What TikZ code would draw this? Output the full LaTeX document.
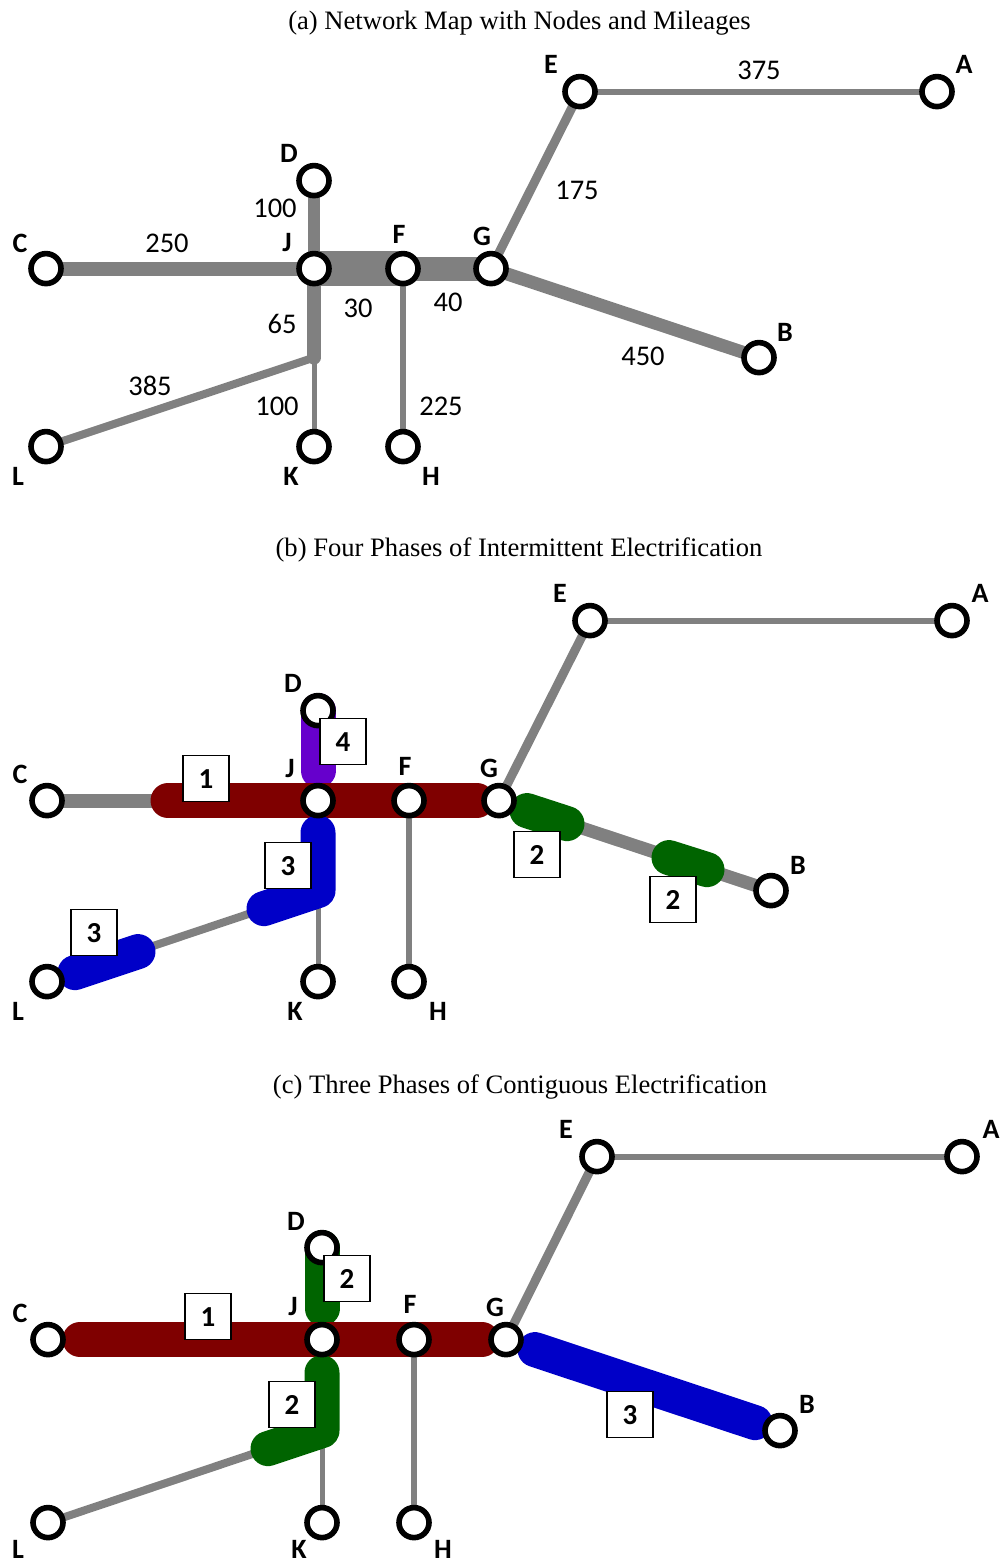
\documentclass[tikz,border=0pt]{standalone}
\usepackage{fontspec}
\setmainfont{Liberation Serif}
\newfontfamily\labelfont{Carlito}
\usetikzlibrary{backgrounds}
\definecolor{trackgray}{HTML}{808080}
\definecolor{phasered}{HTML}{7F0000}
\definecolor{phasegreen}{HTML}{006400}
\definecolor{phaseblue}{HTML}{0000C8}
\definecolor{phasepurple}{HTML}{6600CC}
\tikzstyle{stationblock} = [draw, fill=white, circle, line width=5.6pt, minimum size=30pt, inner sep=0pt]
\tikzstyle{phaseblock} = [draw, fill=white, line width=1.2pt, minimum size=46pt, inner sep=0pt, font=\labelfont\bfseries\fontsize{29}{30}\selectfont]
\tikzstyle{citylabel} = [inner sep=0pt, font=\labelfont\bfseries\fontsize{28}{30}\selectfont]
\tikzstyle{milelabel} = [inner sep=0pt, font=\labelfont\fontsize{28.5}{30}\selectfont]
\tikzstyle{paneltitle} = [inner sep=0pt, font=\fontsize{26.6}{30}\selectfont]
\tikzstyle{track} = [draw=trackgray]
\tikzstyle{phaseline} = [line width=35pt, line cap=round, line join=round]

\begin{document}
\begin{tikzpicture}[x=1pt, y=-1pt]
      \useasboundingbox (0, -0.6) rectangle (1002, 1563.4);

      % (a) network map
      \node[paneltitle] (titleA) at (519.5, 22.5) {(a) Network Map with Nodes and Mileages};
      \node[stationblock] (aA) at (937, 91) {};
      \node[stationblock] (aE) at (580, 91) {};
      \node[stationblock] (aD) at (314, 180) {};
      \node[stationblock] (aC) at (46, 268) {};
      \node[stationblock] (aJ) at (314, 268) {};
      \node[stationblock] (aF) at (403, 268) {};
      \node[stationblock] (aG) at (491, 268) {};
      \node[stationblock] (aB) at (759, 357) {};
      \node[stationblock] (aL) at (46, 446) {};
      \node[stationblock] (aK) at (314, 446) {};
      \node[stationblock] (aH) at (403, 446) {};
      \coordinate (aM) at (314, 357);

      \begin{scope}[on background layer]
        \draw[track, line width=6pt] (aE.center) -- (aA.center);
        \draw[track, line width=9pt] (aG.center) -- (aE.center);
        \draw[track, line width=13pt] (aG.center) -- (aB.center);
        \draw[track, line width=12pt] (aD.center) -- (aJ.center);
        \draw[track, line width=14pt] (aC.center) -- (aJ.center);
        \draw[track, line width=35pt] (aJ.center) -- (aF.center);
        \draw[track, line width=24pt] (aF.center) -- (aG.center);
        \draw[track, line width=5pt] (aM) -- (aK.center);
        \draw[track, line width=6pt] (aF.center) -- (aH.center);
        \draw[track, line width=8pt] (aM) -- (aL.center);
        \draw[track, line width=14pt, line cap=round] (aJ.center) -- (aM);
      \end{scope}

      \node[citylabel] (labelaA) at (964, 64) {A};
      \node[citylabel] (labelaE) at (551, 64) {E};
      \node[citylabel] (labelaD) at (289, 153) {D};
      \node[citylabel] (labelaC) at (20, 243) {C};
      \node[citylabel] (labelaJ) at (287, 242) {J};
      \node[citylabel] (labelaF) at (399, 234) {F};
      \node[citylabel] (labelaG) at (482, 236) {G};
      \node[citylabel] (labelaB) at (785, 332) {B};
      \node[citylabel] (labelaL) at (18, 476) {L};
      \node[citylabel] (labelaK) at (291, 476) {K};
      \node[citylabel] (labelaH) at (431, 476) {H};

      \node[milelabel] (mileEA) at (759, 70) {375};
      \node[milelabel] (mileGE) at (577, 190) {175};
      \node[milelabel] (mileDJ) at (275, 208) {100};
      \node[milelabel] (mileCJ) at (167, 243) {250};
      \node[milelabel] (mileJF) at (358, 308) {30};
      \node[milelabel] (mileFG) at (448, 302) {40};
      \node[milelabel] (mileJM) at (282, 323) {65};
      \node[milelabel] (mileML) at (150, 385) {385};
      \node[milelabel] (mileMK) at (277, 406) {100};
      \node[milelabel] (mileFH) at (441, 406) {225};
      \node[milelabel] (mileGB) at (643, 356) {450};

      % (b) intermittent phases
      \node[paneltitle] (titleB) at (519, 549) {(b) Four Phases of Intermittent Electrification};
      \node[stationblock] (bA) at (952, 620) {};
      \node[stationblock] (bE) at (590, 620) {};
      \node[stationblock] (bD) at (318, 710) {};
      \node[stationblock] (bC) at (47, 800) {};
      \node[stationblock] (bJ) at (318, 800) {};
      \node[stationblock] (bF) at (409, 800) {};
      \node[stationblock] (bG) at (499, 800) {};
      \node[stationblock] (bB) at (771, 890) {};
      \node[stationblock] (bL) at (47, 981) {};
      \node[stationblock] (bK) at (318, 981) {};
      \node[stationblock] (bH) at (409, 981) {};
      \coordinate (bM) at (318, 890);

      \begin{scope}[on background layer]
        \draw[track, line width=6pt] (bE.center) -- (bA.center);
        \draw[track, line width=9pt] (bG.center) -- (bE.center);
        \draw[track, line width=13pt] (bG.center) -- (bB.center);
        \draw[track, line width=14pt] (bC.center) -- (bJ.center);
        \draw[track, line width=5pt] (bM) -- (bK.center);
        \draw[track, line width=6pt] (bF.center) -- (bH.center);
        \draw[track, line width=8pt] (bM) -- (bL.center);
        \draw[phaseline, phasepurple] (bD.center) -- (318, 770);
        \draw[phaseline, phasered] (168, 800) -- (bJ.center) -- (bF.center) -- (477, 800);
        \draw[phaseline, phaseblue] (318, 832) -- (bM) -- (264, 908);
        \draw[phaseline, phaseblue] (75, 972) -- (138, 951);
        \draw[phaseline, phasegreen] (527, 810) -- (567, 823);
        \draw[phaseline, phasegreen] (669, 857) -- (707, 869);
      \end{scope}

      \node[phaseblock] (boxb1) at (206, 778) {1};
      \node[phaseblock] (boxb4) at (343, 741) {4};
      \node[phaseblock] (boxb3a) at (288, 865) {3};
      \node[phaseblock] (boxb3b) at (94, 932) {3};
      \node[phaseblock] (boxb2a) at (537, 854) {2};
      \node[phaseblock] (boxb2b) at (673, 899) {2};

      \node[citylabel] (labelbA) at (980, 593) {A};
      \node[citylabel] (labelbE) at (560, 593) {E};
      \node[citylabel] (labelbD) at (293, 683) {D};
      \node[citylabel] (labelbC) at (20, 774) {C};
      \node[citylabel] (labelbJ) at (290, 768) {J};
      \node[citylabel] (labelbF) at (405, 766) {F};
      \node[citylabel] (labelbG) at (489, 768) {G};
      \node[citylabel] (labelbB) at (798, 865) {B};
      \node[citylabel] (labelbL) at (18, 1011) {L};
      \node[citylabel] (labelbK) at (295, 1011) {K};
      \node[citylabel] (labelbH) at (438, 1011) {H};

      % (c) contiguous phases
      \node[paneltitle] (titleC) at (520, 1086) {(c) Three Phases of Contiguous Electrification};
      \node[stationblock] (cA) at (962, 1156) {};
      \node[stationblock] (cE) at (597, 1156) {};
      \node[stationblock] (cD) at (322, 1247) {};
      \node[stationblock] (cC) at (48, 1339) {};
      \node[stationblock] (cJ) at (322, 1339) {};
      \node[stationblock] (cF) at (414, 1339) {};
      \node[stationblock] (cG) at (506, 1339) {};
      \node[stationblock] (cB) at (780, 1430) {};
      \node[stationblock] (cL) at (48, 1522) {};
      \node[stationblock] (cK) at (322, 1522) {};
      \node[stationblock] (cH) at (414, 1522) {};
      \coordinate (cM) at (322, 1430);

      \begin{scope}[on background layer]
        \draw[track, line width=6pt] (cE.center) -- (cA.center);
        \draw[track, line width=9pt] (cG.center) -- (cE.center);
        \draw[track, line width=5pt] (cM) -- (cK.center);
        \draw[track, line width=6pt] (cF.center) -- (cH.center);
        \draw[track, line width=8pt] (cM) -- (cL.center);
        \draw[phaseline, phasegreen] (cD.center) -- (322, 1308);
        \draw[phaseline, phasered] (cC.center) ++(32, 0) -- (cJ.center) -- (cF.center) -- (482, 1339);
        \draw[phaseline, phasegreen] (322, 1372) -- (cM) -- (268, 1448);
        \draw[phaseline, phaseblue] (535, 1349) -- (755, 1422);
      \end{scope}

      \node[phaseblock] (boxc1) at (208, 1316) {1};
      \node[phaseblock] (boxc2a) at (347, 1278) {2};
      \node[phaseblock] (boxc2b) at (292, 1404) {2};
      \node[phaseblock] (boxc3) at (630, 1414) {3};

      \node[citylabel] (labelcA) at (991, 1129) {A};
      \node[citylabel] (labelcE) at (566, 1129) {E};
      \node[citylabel] (labelcD) at (296, 1221) {D};
      \node[citylabel] (labelcC) at (20, 1313) {C};
      \node[citylabel] (labelcJ) at (293, 1306) {J};
      \node[citylabel] (labelcF) at (410, 1304) {F};
      \node[citylabel] (labelcG) at (495, 1307) {G};
      \node[citylabel] (labelcB) at (807, 1404) {B};
      \node[citylabel] (labelcL) at (18, 1549) {L};
      \node[citylabel] (labelcK) at (299, 1549) {K};
      \node[citylabel] (labelcH) at (443, 1549) {H};
    \end{tikzpicture}
\end{document}
